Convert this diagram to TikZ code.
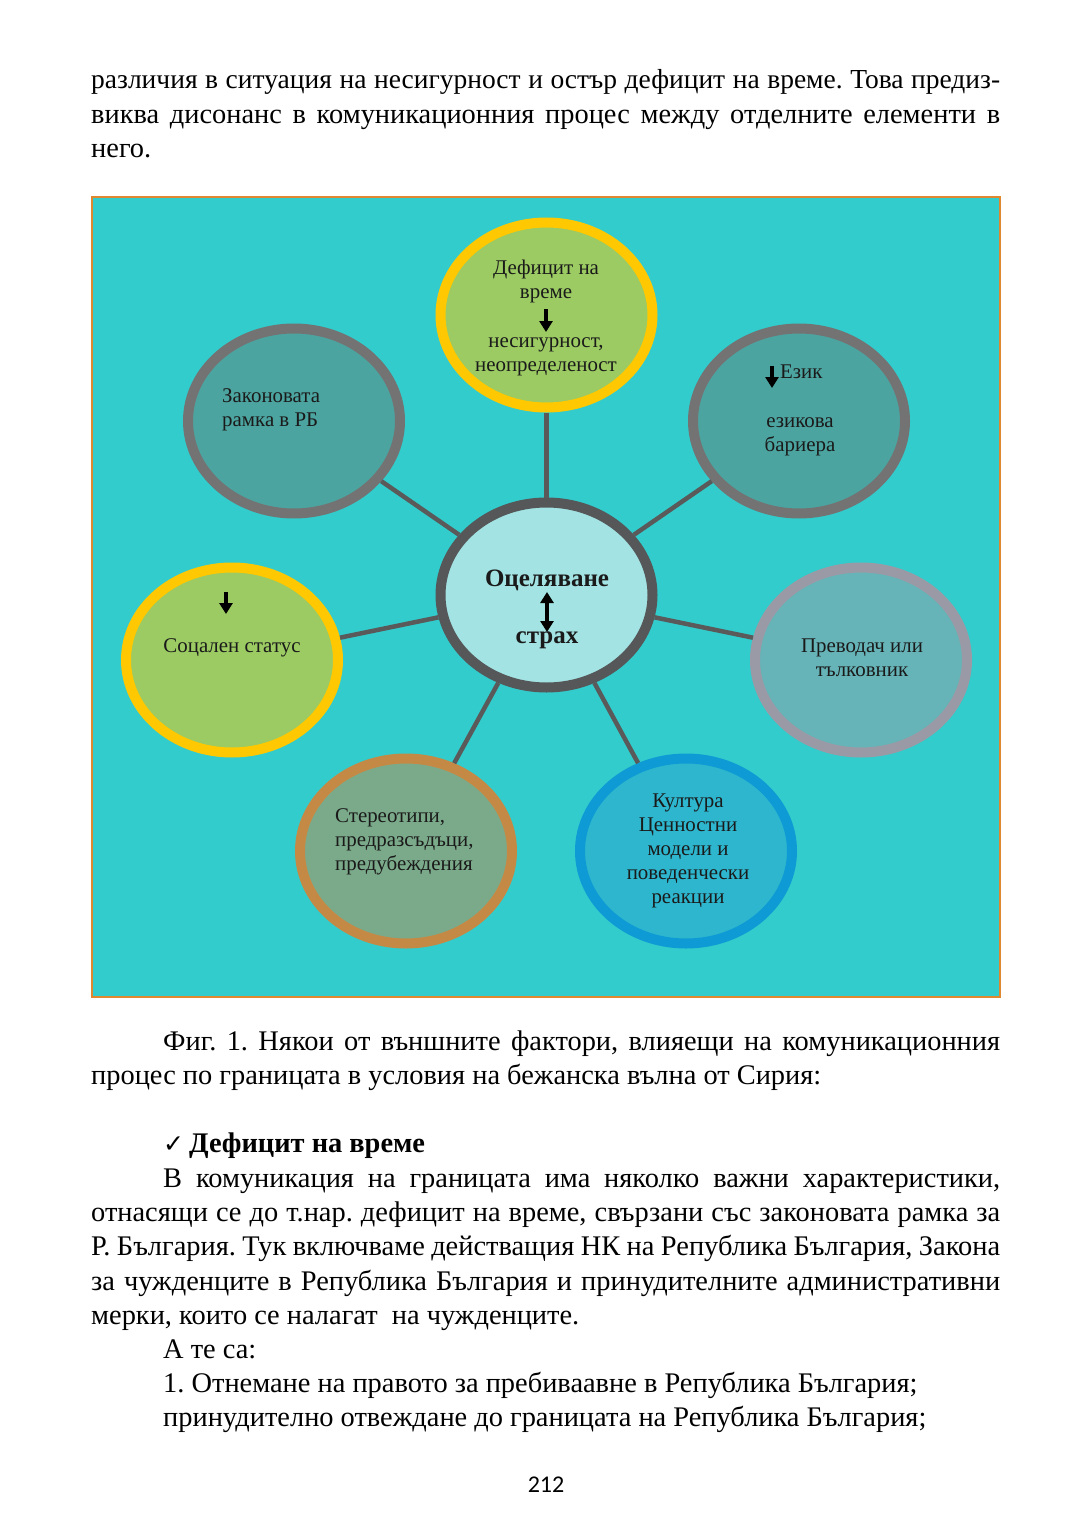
\documentclass[tikz,border=0pt]{standalone}
\usepackage{fontspec}
\setmainfont{Liberation Serif}
\newfontfamily\djv{DejaVu Sans}
\newfontfamily\carl{Carlito}
\usetikzlibrary{shapes.geometric,arrows.meta}
\definecolor{bgteal}{HTML}{33CCCC}
\definecolor{frameor}{HTML}{E0882F}
\definecolor{grfill}{HTML}{9BCB62}
\definecolor{yelb}{HTML}{FFC800}
\definecolor{dtfill}{HTML}{4CA4A0}
\definecolor{grayb}{HTML}{737373}
\definecolor{cenfill}{HTML}{A3E3E3}
\definecolor{cenb}{HTML}{555759}
\definecolor{prfill}{HTML}{66B4B8}
\definecolor{prb}{HTML}{9A9AA6}
\definecolor{stfill}{HTML}{7BAA8A}
\definecolor{stb}{HTML}{C48A45}
\definecolor{kufill}{HTML}{2DB6CE}
\definecolor{kub}{HTML}{0E9AD4}
\definecolor{conncol}{HTML}{5A5A5A}
\definecolor{ink}{HTML}{1A1A1A}
\newcommand\jline[2]{\makebox[#1pt][s]{#2}}
\newcommand\cblock[1]{\vtop{\halign{\hfil##\hfil\cr#1\crcr}}}
\newcommand\lblock[1]{\vtop{\halign{##\hfil\cr#1\crcr}}}
\frenchspacing
\begin{document}
\begin{tikzpicture}[x=1pt,y=-1pt,
  txt/.style={inner sep=0pt,anchor=base west,font=\fontsize{28.4}{34.5}\selectfont},
  ell/.style={ellipse,line width=10pt,minimum width=212pt,minimum height=185pt,inner sep=0pt},
  etxt/.style={inner sep=0pt,anchor=base,text=ink,font=\fontsize{20.9}{24}\selectfont},
  conn/.style={draw=conncol,line width=4.5pt},
  arr/.style={line width=3.2pt,-{Triangle[length=11pt,width=13pt]}},
  darr/.style={line width=3.2pt,{Triangle[length=11pt,width=13pt]}-{Triangle[length=11pt,width=13pt]}}]
\useasboundingbox (0,0) rectangle (1080,1530);
\fill[white] (0,0) rectangle (1080,1530);
% text above
\node[txt,font=\fontsize{27.5}{34.5}\selectfont] (t1) at (91,89) {\jline{909}{различия  в ситуация на несигурност и остър дефицит на време. Това предиз-}};
\node[txt] (t2) at (91,124) {\jline{909}{виква дисонанс в комуникационния процес между отделните елементи в}};
\node[txt] (t3) at (91,158) {него.};
% frame
\draw[frameor,line width=2pt,fill=bgteal] (92,197) rectangle (1000,997);
% ellipses
\node[ell,fill=cenfill,draw=cenb] (e0) at (546.5,595) {};
\node[ell,fill=grfill,draw=yelb] (e1) at (546.5,315) {};
\node[ell,fill=dtfill,draw=grayb] (e2) at (294,421) {};
\node[ell,fill=dtfill,draw=grayb] (e3) at (799,421) {};
\node[ell,fill=grfill,draw=yelb] (e4) at (232,660) {};
\node[ell,fill=prfill,draw=prb] (e5) at (861,660) {};
\node[ell,fill=stfill,draw=stb] (e6) at (406,851) {};
\node[ell,fill=kufill,draw=kub] (e7) at (686,851) {};
% connectors
\foreach \n in {e1,e2,e3,e4,e5,e6,e7} \draw[conn] (e0) -- (\n);
% texts in ellipses
\node[etxt] (x1a) at (546,274) {\cblock{Дефицит на\cr време}};
\node[etxt] (x1b) at (546,347) {\cblock{несигурност,\cr неопределеност}};
\coordinate (a1s) at (546,309); \coordinate (a1e) at (546,332);
\draw[arr] (a1s) -- (a1e);
\node[etxt,anchor=base west] (x2) at (222,402) {\lblock{Законовата\cr рамка в РБ}};
\node[etxt,anchor=base west] (x3a) at (780,378) {Език};
\coordinate (a3s) at (772,366); \coordinate (a3e) at (772,388);
\draw[arr] (a3s) -- (a3e);
\node[etxt] (x3b) at (800,427) {\cblock{езикова\cr бариера}};
\node[etxt,font=\fontsize{25}{30}\bfseries] (x0a) at (547,586) {Оцеляване};
\node[etxt,font=\fontsize{25}{30}\bfseries] (x0b) at (547,643) {страх};
\coordinate (a0s) at (547,592); \coordinate (a0e) at (547,632);
\draw[darr] (a0s) -- (a0e);
\coordinate (a4s) at (226,592); \coordinate (a4e) at (226,614);
\draw[arr] (a4s) -- (a4e);
\node[etxt] (x4) at (232,652) {Соцален статус};
\node[etxt] (x5) at (862,652) {\cblock{Преводач или\cr тълковник}};
\node[etxt,anchor=base west] (x6) at (335,822) {\lblock{Стереотипи,\cr предразсъдъци,\cr предубеждения}};
\node[etxt] (x7) at (688,807) {\cblock{Култура\cr Ценностни\cr модели и\cr поведенчески\cr реакции}};
% caption
\node[txt] (c1) at (163,1050) {\jline{837}{Фиг. 1. Някои от външните фактори, влияещи на комуникационния}};
\node[txt] (c2) at (91,1084) {процес по границата в условия на бежанска вълна от Сирия:};
\node[txt] (h) at (163,1152) {{\djv\fontsize{25}{26}\selectfont ✓}\hspace{5pt}\textbf{Дефицит на време}};
\node[txt] (b1) at (163,1187) {\jline{837}{В комуникация на границата има няколко важни характеристики,}};
\node[txt] (b2) at (91,1221) {\jline{909}{отнасящи се до т.нар. дефицит на време, свързани със законовата рамка за}};
\node[txt] (b3) at (91,1255) {\jline{909}{Р. България. Тук включваме действащия НК на Република България, Закона}};
\node[txt] (b4) at (91,1290) {\jline{909}{за чужденците в Република България и принудителните административни}};
\node[txt] (b5) at (91,1324) {мерки, които се налагат\ \ на чужденците.};
\node[txt] (b6) at (163,1358) {А те са:};
\node[txt] (b7) at (163,1392) {1. Отнемане на правото за пребиваавне в Република България;};
\node[txt] (b8) at (163,1426) {принудително отвеждане до границата на Република България;};
\node[inner sep=0pt,anchor=base,font=\carl\fontsize{24}{28}\selectfont] (pn) at (546,1492) {212};
\end{tikzpicture}
\end{document}
